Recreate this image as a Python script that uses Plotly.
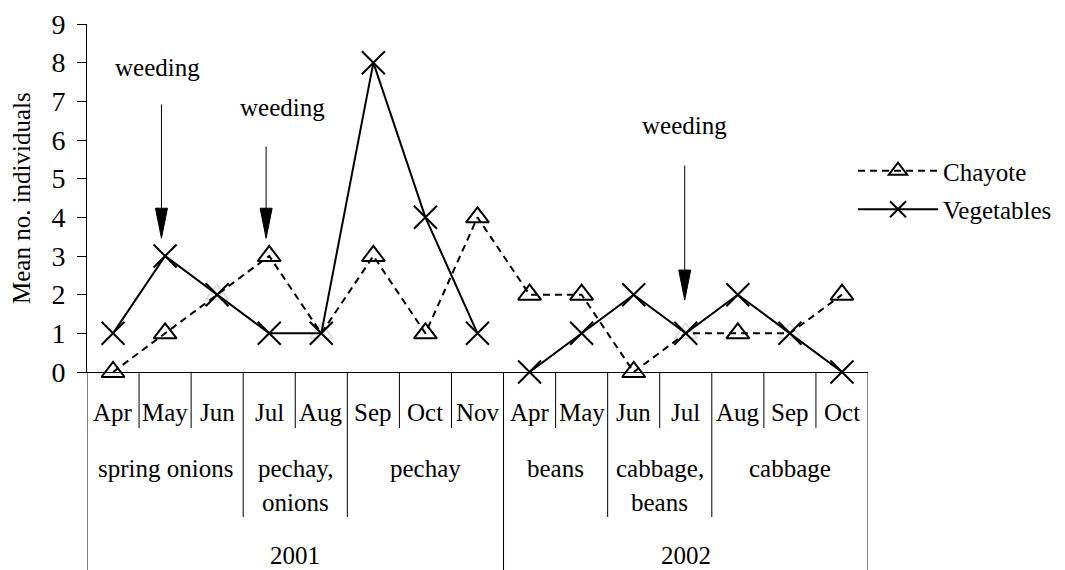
import plotly.graph_objects as go

# ---------------- data ----------------
months = ["Apr", "May", "Jun", "Jul", "Aug", "Sep", "Oct", "Nov",
          "Apr", "May", "Jun", "Jul", "Aug", "Sep", "Oct"]
crops = ["spring onions", "pechay,|onions", "pechay", "beans", "cabbage,|beans", "cabbage"]
crop_spans = [3, 2, 3, 2, 2, 3]
years = ["2001", "2002"]
year_spans = [8, 7]
chayote = [0, 1, 2, 3, 1, 3, 1, 4, 2, 2, 0, 1, 1, 1, 2]
vegetables = [1, 3, 2, 1, 1, 8, 4, 1, 0, 1, 2, 1, 2, 1, 0]
weeding_months = [1, 3, 11]
y_ticks = list(range(0, 10))

# ---------------- styling constants ----------------
FONT = "Liberation Serif"
LBL = 25
PAGE_OFF = 8                              # default body margin of the html page
PLOT_TOP, PLOT_BOTTOM = 24, 372          # px in the screenshot
PLOT_LEFT, PLOT_RIGHT = 87, 868
PLOT_H = PLOT_BOTTOM - PLOT_TOP
PLOT_W = PLOT_RIGHT - PLOT_LEFT
ROW_MONTH, ROW_CROP, ROW_CROP_GAP, ROW_YEAR = 412, 468, 34, 555


def pyf(px):
    """screenshot pixel row -> paper y"""
    return (PLOT_BOTTOM - px) / PLOT_H


def pxf(px):
    """screenshot pixel column -> paper x"""
    return (px - PLOT_LEFT) / PLOT_W


n = len(months)
xs = list(range(n))

fig = go.Figure()

# Chayote (dashed, triangles); triangles faint where coinciding with an X
tri_colors = ["rgba(0,0,0,0.12)" if c == v else "black" for c, v in zip(chayote, vegetables)]
fig.add_trace(go.Scatter(
    x=xs, y=chayote, name="Chayote", mode="lines+markers",
    line=dict(color="black", width=2, dash="7px,5px"),
    marker=dict(symbol="triangle-up-open", size=20, color=tri_colors,
                line=dict(width=2, color=tri_colors)),
    cliponaxis=False, legendgroup="a",
))

# Vegetables (solid, X) with a break between years
vx, vy = [], []
start = 0
for i, span in enumerate(year_spans):
    if i > 0:
        vx.append(None)
        vy.append(None)
    vx += xs[start:start + span]
    vy += vegetables[start:start + span]
    start += span
fig.add_trace(go.Scatter(
    x=vx, y=vy, name="Vegetables", mode="lines+markers", connectgaps=False,
    line=dict(color="black", width=2),
    marker=dict(symbol="x-thin-open", size=23, color="black",
                line=dict(width=2, color="black")),
    cliponaxis=False, legendgroup="b",
))

shapes = []
annotations = []

# ---- category table below the axis ----
crop_bounds = {0}
acc = 0
for s in crop_spans:
    acc += s
    crop_bounds.add(acc)
year_bounds = {0}
acc = 0
for s in year_spans:
    acc += s
    year_bounds.add(acc)

for k in range(n + 1):
    if k in year_bounds:
        y1 = -0.62
    elif k in crop_bounds:
        y1 = pyf(517)
    else:
        y1 = pyf(428)
    shapes.append(dict(type="line", xref="x", yref="paper", x0=k - 0.5, x1=k - 0.5,
                       y0=0, y1=y1, line=dict(color="black", width=1)))


def label(x, ypx, text):
    annotations.append(dict(x=x, y=pyf(ypx), xref="x", yref="paper", text=text,
                            xanchor="center", yanchor="middle", showarrow=False,
                            font=dict(family=FONT, size=LBL, color="black")))


for i, m in enumerate(months):
    label(i, ROW_MONTH, m)

acc = 0
for c, s in zip(crops, crop_spans):
    cx = acc + (s - 1) / 2
    for j, ln in enumerate(c.split("|")):
        label(cx, ROW_CROP + ROW_CROP_GAP * j, ln)
    acc += s

acc = 0
for yv, s in zip(years, year_spans):
    label(acc + (s - 1) / 2, ROW_YEAR, yv)
    acc += s

# ---- weeding arrows ----
arrow_style = [  # (x offset, tail y, tip y, text x offset, text y)
    (-0.07, 6.92, 3.46, -0.15, 7.87),
    (-0.06, 5.83, 3.46, 0.25, 6.84),
    (-0.02, 5.34, 1.86, -0.02, 6.37),
]
HEAD_LEN = 30 / 38.67
HEAD_HALF = 6 / 52.1
for m, (dx, tail, tip, tdx, ty) in zip(weeding_months, arrow_style):
    ax = m + dx
    shapes.append(dict(type="line", xref="x", yref="y", x0=ax, x1=ax, y0=tail, y1=tip + HEAD_LEN * 0.9,
                       line=dict(color="black", width=1)))
    shapes.append(dict(type="path", xref="x", yref="y",
                       path=f"M {ax - HEAD_HALF},{tip + HEAD_LEN} L {ax + HEAD_HALF},{tip + HEAD_LEN} L {ax},{tip} Z",
                       fillcolor="black", line=dict(color="black", width=1)))
    annotations.append(dict(x=m + tdx, y=ty, xref="x", yref="y", text="weeding", showarrow=False,
                            xanchor="center", yanchor="middle",
                            font=dict(family=FONT, size=LBL, color="black")))

# ---- y axis title ----
annotations.append(dict(x=pxf(21), y=0.5, xref="paper", yref="paper", text="Mean no. individuals",
                        textangle=-90, showarrow=False, xanchor="center", yanchor="middle",
                        font=dict(family=FONT, size=25, color="black")))

fig.update_layout(
    width=1065 - PAGE_OFF, height=570 - PAGE_OFF,
    margin=dict(l=PLOT_LEFT - PAGE_OFF, r=1065 - PLOT_RIGHT, t=PLOT_TOP - PAGE_OFF, b=570 - PLOT_BOTTOM,
                autoexpand=False),
    paper_bgcolor="white", plot_bgcolor="white",
    font=dict(family=FONT, color="black"),
    shapes=shapes, annotations=annotations,
    showlegend=True,
    legend=dict(x=pxf(853), y=pyf(148), xanchor="left", yanchor="top",
                font=dict(family=FONT, size=LBL, color="black"),
                itemwidth=80, tracegroupgap=3, bgcolor="rgba(0,0,0,0)"),
    xaxis=dict(range=[-0.5, n - 0.5], showline=True, linecolor="black", linewidth=1,
               showticklabels=False, ticks="", showgrid=False, zeroline=False, fixedrange=True),
    yaxis=dict(range=[0, 9], tickvals=y_ticks, showline=True, linecolor="black", linewidth=1,
               ticks="outside", ticklen=9, tickwidth=1, tickcolor="black",
               tickfont=dict(family=FONT, size=28, color="black"),
               showgrid=False, zeroline=False, ticklabelstandoff=6, fixedrange=True),
)

fig.write_html("out.html")
